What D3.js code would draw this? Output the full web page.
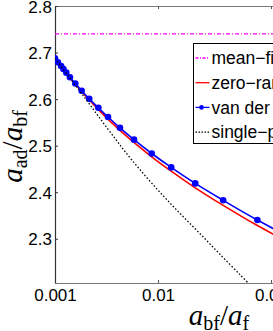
<!DOCTYPE html>
<html>
<head>
<meta charset="utf-8">
<script src="https://cdn.jsdelivr.net/npm/d3@7"></script>
<style>
  html, body { margin: 0; padding: 0; background: #fff; overflow: hidden; }
  svg { display: block; }
</style>
</head>
<body>
<div id="chart"></div>
<script>
// x axis is plotted on a cube-root scale, ticks as in the figure
const xTicks = [0.001, 0.01, 0.04];
const yTicks = [2.3, 2.4, 2.5, 2.6, 2.7, 2.8];

const meanFieldValue = 2.74;

const vdwX = [0.00100, 0.00110, 0.00122, 0.00131, 0.00143, 0.00159, 0.00185, 0.00219, 0.00265, 0.00328,
              0.00405, 0.00516, 0.00670, 0.00905, 0.0122, 0.0170, 0.0240, 0.0349, 0.0511];
const vdwY = [2.6875, 2.6791, 2.6710, 2.6647, 2.6568, 2.6471, 2.6335, 2.6181, 2.6006, 2.5813,
              2.5615, 2.5383, 2.5129, 2.4832, 2.4533, 2.4189, 2.3826, 2.3402, 2.2951];

const zeroRangeX = [0.00100, 0.00185, 0.00328, 0.00516, 0.00905, 0.0122, 0.0170, 0.0240, 0.0349, 0.0511];
const zeroRangeY = [2.6875, 2.6318, 2.5774, 2.5329, 2.4761, 2.4452, 2.4095, 2.3718, 2.3284, 2.2826];

const singleX = [0.00100, 0.00159, 0.00239, 0.00340, 0.00468, 0.00568, 0.00744, 0.0103, 0.0138, 0.0181,
                 0.0231, 0.0290, 0.0323];
const singleY = [2.6875, 2.6452, 2.6022, 2.5585, 2.5155, 2.4875, 2.4484, 2.4000, 2.3548, 2.3108,
                 2.2667, 2.2230, 2.2011];

const legendLabels = ['mean\u2212field', 'zero\u2212range', 'van der Waals', 'single\u2212particle'];

const W = 273, H = 331;
const margin = { left: 55, top: 6, right: 380, bottom: 283 };

const svg = d3.select('#chart').append('svg')
  .attr('width', W)
  .attr('height', H);

const x = d3.scalePow().exponent(1 / 3)
  .domain([0.001, 0.1])
  .range([margin.left, margin.right]);

const y = d3.scaleLinear()
  .domain([2.205, 2.8])
  .range([margin.bottom, margin.top]);

svg.append('defs').append('clipPath').attr('id', 'plotClip')
  .append('rect')
    .attr('x', margin.left)
    .attr('y', margin.top)
    .attr('width', margin.right - margin.left)
    .attr('height', margin.bottom - margin.top);

const tickFont = '"Liberation Sans", Arial, Helvetica, sans-serif';

// axes, ticks point inwards
const bottomAxis = svg.append('g')
  .attr('transform', `translate(0,${margin.bottom})`)
  .call(d3.axisBottom(x).tickValues(xTicks).tickFormat(d3.format('')).tickSizeInner(-3).tickSizeOuter(0).tickPadding(6));
const topAxis = svg.append('g')
  .attr('transform', `translate(0,${margin.top})`)
  .call(d3.axisTop(x).tickValues(xTicks).tickFormat('').tickSizeInner(-3).tickSizeOuter(0));
const leftAxis = svg.append('g')
  .attr('transform', `translate(${margin.left},0)`)
  .call(d3.axisLeft(y).tickValues(yTicks).tickFormat(d3.format('.1f')).tickSizeInner(-3).tickSizeOuter(0).tickPadding(3));
const rightAxis = svg.append('g')
  .attr('transform', `translate(${margin.right},0)`)
  .call(d3.axisRight(y).tickValues(yTicks).tickFormat('').tickSizeInner(-3).tickSizeOuter(0));

[bottomAxis, topAxis, leftAxis, rightAxis].forEach(g => {
  g.selectAll('text')
    .attr('font-family', tickFont)
    .attr('font-size', '17px')
    .attr('fill', '#000');
});
[bottomAxis, topAxis, rightAxis].forEach(g => {
  g.select('.domain').attr('stroke', '#777').attr('stroke-width', 1.2);
  g.selectAll('.tick line').attr('stroke', '#555');
});
leftAxis.select('.domain').attr('stroke', '#333').attr('stroke-width', 1.2);
leftAxis.selectAll('.tick line').attr('stroke', '#333');
leftAxis.selectAll('text').attr('dy', '0.36em');

// curves
const plot = svg.append('g').attr('clip-path', 'url(#plotClip)');

const line = d3.line()
  .x(d => x(d[0]))
  .y(d => y(d[1]))
  .curve(d3.curveCatmullRom);

plot.append('line')
  .attr('x1', margin.left)
  .attr('x2', margin.right)
  .attr('y1', y(meanFieldValue))
  .attr('y2', y(meanFieldValue))
  .attr('stroke', '#ff00ff')
  .attr('stroke-width', 1.2)
  .attr('stroke-dasharray', '4,2,1,2');

plot.append('path')
  .datum(d3.zip(zeroRangeX, zeroRangeY))
  .attr('d', line)
  .attr('fill', 'none')
  .attr('stroke', '#ff0000')
  .attr('stroke-width', 1.6);

const vdw = d3.zip(vdwX, vdwY);
plot.append('path')
  .datum(vdw)
  .attr('d', line)
  .attr('fill', 'none')
  .attr('stroke', '#0000ff')
  .attr('stroke-width', 1.6);

plot.append('g')
  .selectAll('circle')
  .data(vdw)
  .enter()
  .append('circle')
    .attr('cx', d => x(d[0]))
    .attr('cy', d => y(d[1]))
    .attr('r', 3.3)
    .attr('fill', '#0000ff');

plot.append('path')
  .datum(d3.zip(singleX, singleY))
  .attr('d', line)
  .attr('fill', 'none')
  .attr('stroke', '#000')
  .attr('stroke-width', 1.3)
  .attr('stroke-dasharray', '1.5,2');

// legend
const legend = svg.append('g').attr('transform', 'translate(193.5,43.5)');
legend.append('rect')
  .attr('width', 200)
  .attr('height', 100)
  .attr('fill', '#fff')
  .attr('stroke', '#000')
  .attr('stroke-width', 1);

const legendStyles = [
  { color: '#ff00ff', dash: '3,1.5,1,1.5', marker: false },
  { color: '#ff0000', dash: null, marker: false },
  { color: '#0000ff', dash: null, marker: true },
  { color: '#000000', dash: '1.5,1.5', marker: false }
];

legendLabels.forEach((label, i) => {
  const cy = 14.5 + 24.7 * i;
  const st = legendStyles[i];
  legend.append('line')
    .attr('x1', 2)
    .attr('x2', 16)
    .attr('y1', cy)
    .attr('y2', cy)
    .attr('stroke', st.color)
    .attr('stroke-width', 1.3)
    .attr('stroke-dasharray', st.dash);
  if (st.marker) {
    legend.append('circle')
      .attr('cx', 8)
      .attr('cy', cy)
      .attr('r', 2.3)
      .attr('fill', st.color);
  }
  legend.append('text')
    .attr('x', 18)
    .attr('y', cy)
    .attr('dy', '0.35em')
    .attr('font-family', tickFont)
    .attr('font-size', '17.5px')
    .attr('fill', '#000')
    .text(label);
});

// axis titles
function mathLabel(sel, parts) {
  parts.forEach(p => {
    const t = sel.append('tspan').text(p.text);
    if (p.italic) t.attr('font-style', 'italic');
    if (p.sub) t.attr('font-size', '20px').attr('dy', p.dy);
    else if (p.dy) t.attr('dy', p.dy);
  });
}

const xTitle = svg.append('text')
  .attr('x', 219)
  .attr('y', 325)
  .attr('text-anchor', 'middle')
  .attr('font-family', '"Liberation Serif", "Times New Roman", serif')
  .attr('font-size', '29px')
  .attr('fill', '#000');
mathLabel(xTitle, [
  { text: 'a', italic: true },
  { text: 'bf', sub: true, dy: 5 },
  { text: '/', dy: -5 },
  { text: 'a', italic: true },
  { text: 'f', sub: true, dy: 5 }
]);

const yTitle = svg.append('text')
  .attr('transform', `translate(22,${(margin.top + margin.bottom) / 2 + 2}) rotate(-90)`)
  .attr('text-anchor', 'middle')
  .attr('font-family', '"Liberation Serif", "Times New Roman", serif')
  .attr('font-size', '29px')
  .attr('fill', '#000');
mathLabel(yTitle, [
  { text: 'a', italic: true },
  { text: 'ad', sub: true, dy: 5 },
  { text: '/', dy: -5 },
  { text: 'a', italic: true },
  { text: 'bf', sub: true, dy: 5 }
]);
</script>
</body>
</html>
